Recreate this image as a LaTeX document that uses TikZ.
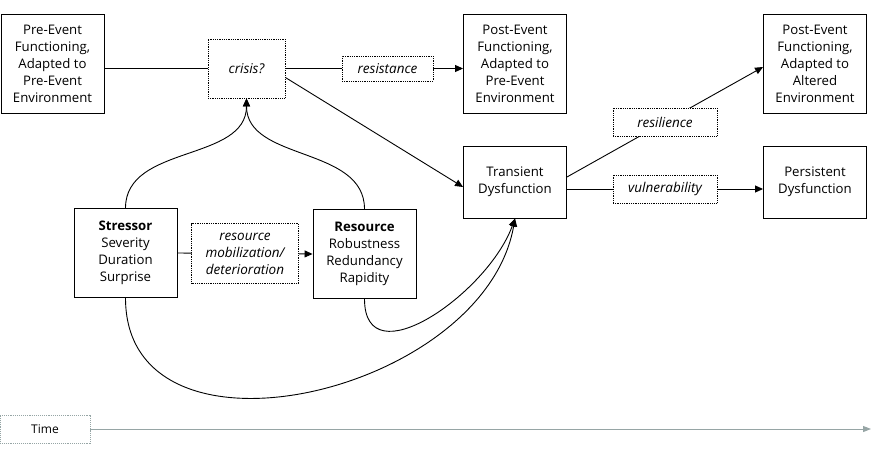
\documentclass[tikz,border=0pt]{standalone}
\usepackage{fontspec}
\setmainfont{Open Sans}
\definecolor{timegray}{RGB}{150,165,165}
\usetikzlibrary{
  positioning,     % relative placement
  arrows.meta      % triangle tips
}
\tikzset{
  every node/.style = {
    rectangle,
    align=center,
    inner sep = 2pt,
    font=\fontsize{13.2}{17}\selectfont
  },
  stage/.style = {draw, line width=0.9pt, minimum width=103pt, minimum height=99pt},
  condition/.style = {stage, minimum height=72pt},
  factor/.style = {stage, minimum height=89pt},
  pathway/.style = {draw, densely dotted, line width=0.8pt, fill=white,
    font=\fontsize{13.5}{17}\selectfont\itshape},
  timelabel/.style = {draw=timegray, densely dotted, minimum width=90pt, minimum height=28pt,
    font=\fontsize{12}{14}\selectfont},
  timeline/.style = {draw=timegray, line width=1pt, -{Triangle[length=8pt,width=6pt]}},
  >={Triangle[length=8pt,width=7pt]}
}

\begin{document}
\begin{tikzpicture}[x=1pt, y=-1pt, line width=0.9pt]
  \useasboundingbox (0,0) rectangle (878,458);

  %% nodes
  \node[stage] (pre) at (52.5,64) {Pre-Event\\Functioning,\\Adapted to\\Pre-Event\\Environment};
  \node[pathway, minimum width=77pt, minimum height=59pt] (crisis) at (246.5,68.5) {crisis?};
  \node[stage] (postpre) at (515,64) {Post-Event\\Functioning,\\Adapted to\\Pre-Event\\Environment};
  \node[stage] (postalt) at (815,64) {Post-Event\\Functioning,\\Adapted to\\Altered\\Environment};

  \node[condition] (transient) at (515,182) {Transient\\Dysfunction};
  \node[condition] (persistent) at (815,182) {Persistent\\Dysfunction};

  \node[factor] (stressor) at (125.5,253) {\textbf{Stressor}\\Severity\\Duration\\Surprise};
  \node[factor] (resource) at (364.5,254) {\textbf{Resource}\\Robustness\\Redundancy\\Rapidity};

  \node[timelabel] (time) at (45,429) {Time};
  \coordinate (timeend) at (871,429);

  %% arrows
  \draw (crisis.west -| pre.east) -- (crisis.west);
  \draw[->] (crisis.east) -- node[pathway, pos=0.575, minimum width=91pt, minimum height=25pt] (resist) {resistance} (crisis.east -| postpre.west);
  \draw[->] ([yshift=-9pt]crisis.east) -- ([yshift=-5pt]transient.west);

  \draw[->] ([yshift=5pt]transient.east) -- node[pathway, minimum width=104pt, minimum height=28pt] (resil) {resilience} ([yshift=-3pt]postalt.west);
  \draw[->] ([yshift=-7pt]transient.east) -- node[pathway, minimum width=104pt, minimum height=28pt] (vuln) {vulnerability} ([yshift=-7pt]persistent.west);

  \draw[->] (stressor.east) -- node[pathway, minimum width=107pt, minimum height=60pt] (mobil) {resource\\mobilization/\\deterioration} (resource.west);

  \draw[->] (stressor.north) to[out=90, in=-90] (crisis.south);
  \draw[->] (resource.north) to[out=90, in=-90] (crisis.south);

  \draw[->] (resource.south) to[out=-90, in=-110, looseness=1.2] (transient.south);
  \draw[->] (stressor.south) to[out=-90, in=-100, looseness=1.15] (transient.south);

  \draw[timeline] (time.east) -- (timeend);

\end{tikzpicture}
\end{document}
